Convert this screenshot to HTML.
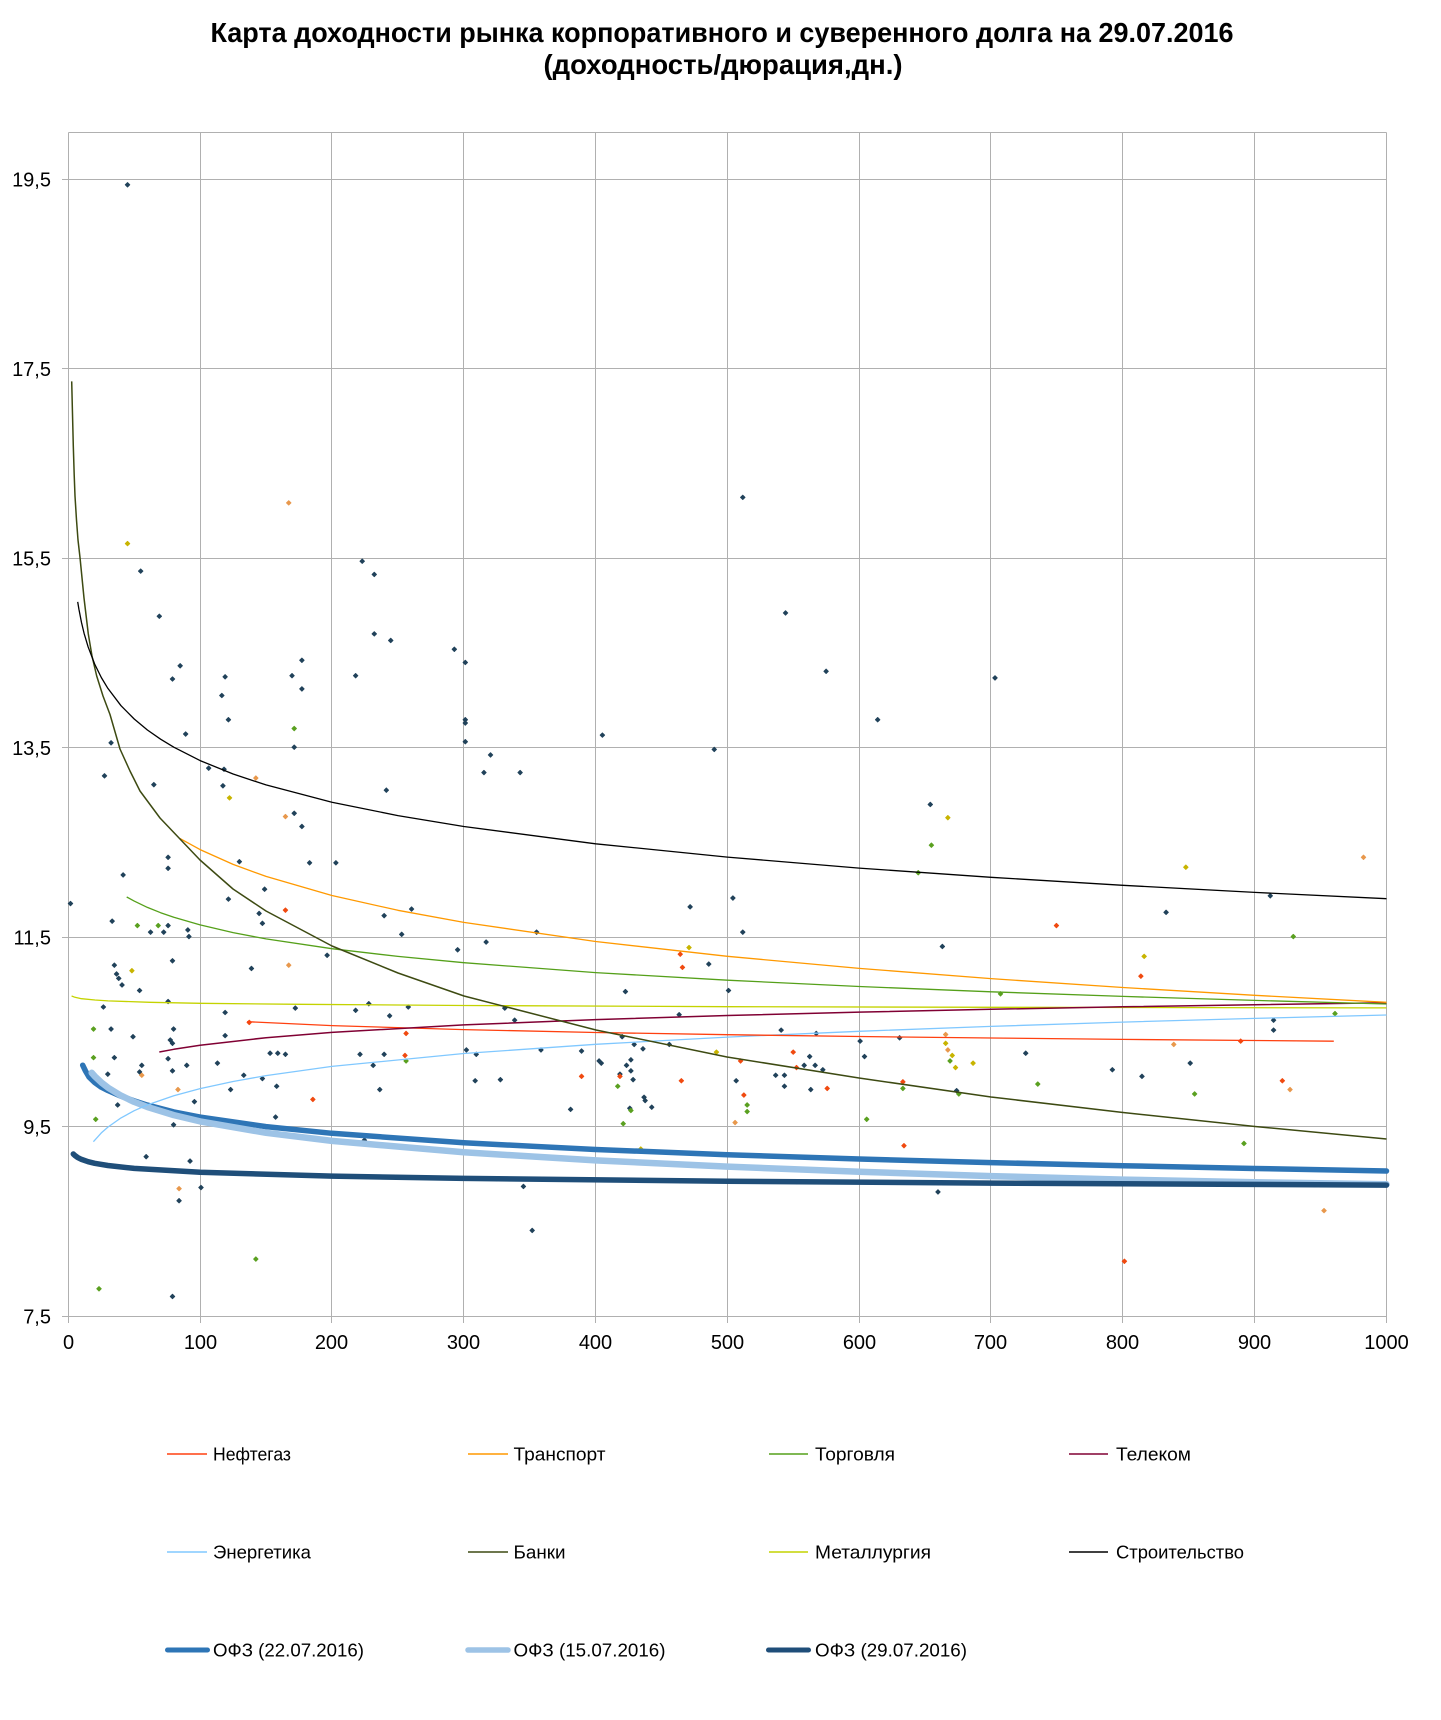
<!DOCTYPE html>
<html><head><meta charset="utf-8"><style>
html,body{margin:0;padding:0;background:#fff;}
svg{display:block;font-family:"Liberation Sans",sans-serif;}
</style></head><body>
<svg width="1441" height="1720" viewBox="0 0 1441 1720" xmlns="http://www.w3.org/2000/svg">
<rect width="1441" height="1720" fill="#fff"/>
<text x="722" y="42" text-anchor="middle" font-size="28" font-weight="bold" textLength="1023" lengthAdjust="spacingAndGlyphs">Карта доходности рынка корпоративного и суверенного долга на 29.07.2016</text>
<text x="723" y="74" text-anchor="middle" font-size="28" font-weight="bold" textLength="359" lengthAdjust="spacingAndGlyphs">(доходность/дюрация,дн.)</text>
<g stroke="#b0b0b0" stroke-width="1" fill="none">
<path d="M68.5 132.5H1386.5M62 179.5H1386.5M62 368.5H1386.5M62 558.5H1386.5M62 747.5H1386.5M62 937.5H1386.5M62 1126.5H1386.5M62 1316.5H1386.5"/>
<path d="M68.5 132.5V1323M200.5 132.5V1323M331.5 132.5V1323M463.5 132.5V1323M595.5 132.5V1323M727.5 132.5V1323M859.5 132.5V1323M990.5 132.5V1323M1122.5 132.5V1323M1254.5 132.5V1323M1386.5 132.5V1323"/>
</g>
<g font-size="20" fill="#000" text-anchor="end">
<text x="51" y="186.5">19,5</text>
<text x="51" y="376">17,5</text>
<text x="51" y="565.5">15,5</text>
<text x="51" y="755">13,5</text>
<text x="51" y="944.5">11,5</text>
<text x="51" y="1134">9,5</text>
<text x="51" y="1323.5">7,5</text>
</g>
<g font-size="20" fill="#000" text-anchor="middle">
<text x="68.5" y="1349">0</text>
<text x="200.5" y="1349">100</text>
<text x="331.5" y="1349">200</text>
<text x="463.5" y="1349">300</text>
<text x="595.5" y="1349">400</text>
<text x="727.5" y="1349">500</text>
<text x="859.5" y="1349">600</text>
<text x="990.5" y="1349">700</text>
<text x="1122.5" y="1349">800</text>
<text x="1254.5" y="1349">900</text>
<text x="1386.5" y="1349">1000</text>
</g>
<!-- scatter points (display coords transformed) -->
<g transform="matrix(1.0967 0 0 1.1007 0.3 -2.34)" stroke-width="0.9" stroke-linejoin="round">
<path fill="#21425a" stroke="#21425a" d="M116 168l2 2-2 2-2-2zM677 452l2 2-2 2-2-2zM330 510l2 2-2 2-2-2zM341 522l2 2-2 2-2-2zM128 519l2 2-2 2-2-2zM716 557l2 2-2 2-2-2zM145 560l2 2-2 2-2-2zM341 576l2 2-2 2-2-2zM356 582l2 2-2 2-2-2zM414 590l2 2-2 2-2-2zM424 602l2 2-2 2-2-2zM275 600l2 2-2 2-2-2zM266 614l2 2-2 2-2-2zM324 614l2 2-2 2-2-2zM164 605l2 2-2 2-2-2zM157 617l2 2-2 2-2-2zM205 615l2 2-2 2-2-2zM202 632l2 2-2 2-2-2zM275 626l2 2-2 2-2-2zM753 610l2 2-2 2-2-2zM907 616l2 2-2 2-2-2zM424 654l2 2-2 2-2-2zM424 657l2 2-2 2-2-2zM208 654l2 2-2 2-2-2zM169 667l2 2-2 2-2-2zM549 668l2 2-2 2-2-2zM800 654l2 2-2 2-2-2zM101 675l2 2-2 2-2-2zM268 679l2 2-2 2-2-2zM424 674l2 2-2 2-2-2zM447 686l2 2-2 2-2-2zM651 681l2 2-2 2-2-2zM190 698l2 2-2 2-2-2zM204 699l2 2-2 2-2-2zM441 702l2 2-2 2-2-2zM474 702l2 2-2 2-2-2zM95 705l2 2-2 2-2-2zM140 713l2 2-2 2-2-2zM203 714l2 2-2 2-2-2zM352 718l2 2-2 2-2-2zM848 731l2 2-2 2-2-2zM268 739l2 2-2 2-2-2zM275 751l2 2-2 2-2-2zM153 779l2 2-2 2-2-2zM218 783l2 2-2 2-2-2zM282 784l2 2-2 2-2-2zM306 784l2 2-2 2-2-2zM153 789l2 2-2 2-2-2zM112 795l2 2-2 2-2-2zM241 808l2 2-2 2-2-2zM208 817l2 2-2 2-2-2zM668 816l2 2-2 2-2-2zM1158 814l2 2-2 2-2-2zM64 821l2 2-2 2-2-2zM236 830l2 2-2 2-2-2zM350 832l2 2-2 2-2-2zM375 826l2 2-2 2-2-2zM629 824l2 2-2 2-2-2zM1063 829l2 2-2 2-2-2zM102 837l2 2-2 2-2-2zM239 839l2 2-2 2-2-2zM153 841l2 2-2 2-2-2zM171 845l2 2-2 2-2-2zM149 847l2 2-2 2-2-2zM137 847l2 2-2 2-2-2zM172 851l2 2-2 2-2-2zM366 849l2 2-2 2-2-2zM489 847l2 2-2 2-2-2zM677 847l2 2-2 2-2-2zM859 860l2 2-2 2-2-2zM417 863l2 2-2 2-2-2zM443 856l2 2-2 2-2-2zM298 868l2 2-2 2-2-2zM157 873l2 2-2 2-2-2zM104 877l2 2-2 2-2-2zM229 880l2 2-2 2-2-2zM646 876l2 2-2 2-2-2zM106 885l2 2-2 2-2-2zM108 889l2 2-2 2-2-2zM111 895l2 2-2 2-2-2zM570 901l2 2-2 2-2-2zM664 900l2 2-2 2-2-2zM127 900l2 2-2 2-2-2zM153 910l2 2-2 2-2-2zM269 916l2 2-2 2-2-2zM336 912l2 2-2 2-2-2zM94 915l2 2-2 2-2-2zM324 918l2 2-2 2-2-2zM372 915l2 2-2 2-2-2zM460 916l2 2-2 2-2-2zM355 923l2 2-2 2-2-2zM205 920l2 2-2 2-2-2zM619 922l2 2-2 2-2-2zM101 935l2 2-2 2-2-2zM158 935l2 2-2 2-2-2zM469 927l2 2-2 2-2-2zM1161 927l2 2-2 2-2-2zM1161 936l2 2-2 2-2-2zM205 941l2 2-2 2-2-2zM121 942l2 2-2 2-2-2zM155 945l2 2-2 2-2-2zM567 942l2 2-2 2-2-2zM712 936l2 2-2 2-2-2zM744 939l2 2-2 2-2-2zM820 943l2 2-2 2-2-2zM157 948l2 2-2 2-2-2zM578 949l2 2-2 2-2-2zM784 946l2 2-2 2-2-2zM153 962l2 2-2 2-2-2zM104 961l2 2-2 2-2-2zM546 964l2 2-2 2-2-2zM586 953l2 2-2 2-2-2zM610 949l2 2-2 2-2-2zM328 958l2 2-2 2-2-2zM246 957l2 2-2 2-2-2zM253 957l2 2-2 2-2-2zM260 958l2 2-2 2-2-2zM350 958l2 2-2 2-2-2zM425 954l2 2-2 2-2-2zM434 958l2 2-2 2-2-2zM493 954l2 2-2 2-2-2zM530 955l2 2-2 2-2-2zM788 960l2 2-2 2-2-2zM738 960l2 2-2 2-2-2zM1085 966l2 2-2 2-2-2zM935 957l2 2-2 2-2-2zM129 968l2 2-2 2-2-2zM170 968l2 2-2 2-2-2zM198 966l2 2-2 2-2-2zM340 968l2 2-2 2-2-2zM548 966l2 2-2 2-2-2zM571 968l2 2-2 2-2-2zM575 973l2 2-2 2-2-2zM575 963l2 2-2 2-2-2zM733 968l2 2-2 2-2-2zM743 968l2 2-2 2-2-2zM750 972l2 2-2 2-2-2zM1014 972l2 2-2 2-2-2zM127 974l2 2-2 2-2-2zM157 973l2 2-2 2-2-2zM98 976l2 2-2 2-2-2zM222 977l2 2-2 2-2-2zM239 980l2 2-2 2-2-2zM433 982l2 2-2 2-2-2zM456 981l2 2-2 2-2-2zM565 976l2 2-2 2-2-2zM577 981l2 2-2 2-2-2zM671 982l2 2-2 2-2-2zM707 977l2 2-2 2-2-2zM715 977l2 2-2 2-2-2zM1041 978l2 2-2 2-2-2zM210 990l2 2-2 2-2-2zM252 987l2 2-2 2-2-2zM346 990l2 2-2 2-2-2zM715 987l2 2-2 2-2-2zM739 990l2 2-2 2-2-2zM872 991l2 2-2 2-2-2zM107 1004l2 2-2 2-2-2zM177 1001l2 2-2 2-2-2zM588 1000l2 2-2 2-2-2zM594 1006l2 2-2 2-2-2zM587 997l2 2-2 2-2-2zM520 1008l2 2-2 2-2-2zM574 1007l2 2-2 2-2-2zM158 1022l2 2-2 2-2-2zM251 1015l2 2-2 2-2-2zM133 1051l2 2-2 2-2-2zM173 1055l2 2-2 2-2-2zM332 1036l2 2-2 2-2-2zM183 1079l2 2-2 2-2-2zM477 1078l2 2-2 2-2-2zM855 1083l2 2-2 2-2-2zM163 1091l2 2-2 2-2-2zM485 1118l2 2-2 2-2-2zM157 1178l2 2-2 2-2-2z"/>
<path fill="#e8984c" stroke="#e8984c" d="M263 457l2 2-2 2-2-2zM233 707l2 2-2 2-2-2zM260 742l2 2-2 2-2-2zM1243 779l2 2-2 2-2-2zM263 877l2 2-2 2-2-2zM862 940l2 2-2 2-2-2zM1070 949l2 2-2 2-2-2zM864 954l2 2-2 2-2-2zM129 977l2 2-2 2-2-2zM1176 990l2 2-2 2-2-2zM162 990l2 2-2 2-2-2zM670 1020l2 2-2 2-2-2zM163 1080l2 2-2 2-2-2zM1207 1100l2 2-2 2-2-2z"/>
<path fill="#c8b400" stroke="#c8b400" d="M116 494l2 2-2 2-2-2zM209 725l2 2-2 2-2-2zM864 743l2 2-2 2-2-2zM1081 788l2 2-2 2-2-2zM628 861l2 2-2 2-2-2zM1043 869l2 2-2 2-2-2zM120 882l2 2-2 2-2-2zM653 956l2 2-2 2-2-2zM862 948l2 2-2 2-2-2zM868 959l2 2-2 2-2-2zM871 970l2 2-2 2-2-2zM887 966l2 2-2 2-2-2zM584 1044l2 2-2 2-2-2z"/>
<path fill="#5aa020" stroke="#5aa020" d="M268 662l2 2-2 2-2-2zM849 768l2 2-2 2-2-2zM837 793l2 2-2 2-2-2zM125 841l2 2-2 2-2-2zM144 841l2 2-2 2-2-2zM1179 851l2 2-2 2-2-2zM912 903l2 2-2 2-2-2zM85 935l2 2-2 2-2-2zM1217 921l2 2-2 2-2-2zM370 964l2 2-2 2-2-2zM866 964l2 2-2 2-2-2zM85 961l2 2-2 2-2-2zM563 987l2 2-2 2-2-2zM823 989l2 2-2 2-2-2zM874 994l2 2-2 2-2-2zM946 985l2 2-2 2-2-2zM1089 994l2 2-2 2-2-2zM681 1004l2 2-2 2-2-2zM681 1010l2 2-2 2-2-2zM575 1009l2 2-2 2-2-2zM790 1017l2 2-2 2-2-2zM87 1017l2 2-2 2-2-2zM568 1021l2 2-2 2-2-2zM1134 1039l2 2-2 2-2-2zM233 1144l2 2-2 2-2-2zM90 1171l2 2-2 2-2-2z"/>
<path fill="#f04a10" stroke="#f04a10" d="M260 827l2 2-2 2-2-2zM963 841l2 2-2 2-2-2zM620 867l2 2-2 2-2-2zM622 879l2 2-2 2-2-2zM1040 887l2 2-2 2-2-2zM227 929l2 2-2 2-2-2zM370 939l2 2-2 2-2-2zM1131 946l2 2-2 2-2-2zM675 964l2 2-2 2-2-2zM369 959l2 2-2 2-2-2zM723 956l2 2-2 2-2-2zM726 970l2 2-2 2-2-2zM530 978l2 2-2 2-2-2zM565 978l2 2-2 2-2-2zM621 982l2 2-2 2-2-2zM823 983l2 2-2 2-2-2zM1169 982l2 2-2 2-2-2zM754 989l2 2-2 2-2-2zM285 999l2 2-2 2-2-2zM678 995l2 2-2 2-2-2zM824 1041l2 2-2 2-2-2zM1025 1146l2 2-2 2-2-2z"/>
</g>
<!-- OFZ curves -->
<g fill="none" stroke-linecap="round" stroke-linejoin="round">
<polyline stroke="#2e75b6" stroke-width="5.5" points="82.7,1065.2 85.5,1071 89,1077 94.7,1082.5 101.3,1087.2 107.9,1090.5 121,1096.2 134.2,1100.9 147.4,1105.1 173.8,1111.9 200.1,1117.1 266,1126.6 331.9,1133.3 463.8,1142.8 595.6,1149.5 727.4,1154.7 859.2,1159 991,1162.6 1122.9,1165.7 1254.7,1168.5 1386.5,1171"/>
<polyline stroke="#9dc3e6" stroke-width="6.5" points="91.7,1072.8 94.7,1076.2 101.3,1082.4 107.9,1087.6 121,1095.6 134.2,1101.9 147.4,1107 173.8,1115.1 200.1,1121.4 266,1132.8 331.9,1140.9 463.8,1152.3 595.6,1160.4 727.4,1166.6 859.2,1171.8 991,1176.1 1122.9,1179.6 1254.7,1182.3 1386.5,1184.3"/>
<polyline stroke="#1f4e79" stroke-width="5.5" points="73.3,1154 74.9,1155.5 77.5,1157.4 81.5,1159.4 88.1,1161.7 94.7,1163.3 107.9,1165.5 134.2,1168.4 200.1,1172.3 331.9,1176.1 463.8,1178.4 727.4,1181.3 991,1183.1 1386.5,1185.1"/>
</g>
<!-- trendlines -->
<g fill="none" stroke-width="1.3" stroke-linejoin="round">
<polyline stroke="#c4d300" points="71.6,996 75,997.3 81.5,998.7 95,1000 107.9,1000.9 150,1002.3 200.1,1003.3 300,1004.3 463.8,1005.5 727.4,1006.7 1000,1007.3 1386.5,1007.9"/>
<polyline stroke="#80c8ff" points="93.4,1141.7 101.3,1132.9 107.9,1127.1 121,1117.9 134.2,1110.7 147.4,1104.9 173.8,1095.7 200.1,1088.6 233.1,1081.5 266,1075.6 331.9,1066.4 463.8,1053.5 595.6,1044.3 727.4,1037.1 859.2,1031.3 991,1026.4 1122.9,1022.1 1254.7,1018.4 1386.5,1015"/>
<polyline stroke="#ff4010" points="247.1,1021.7 331.9,1025.6 463.8,1029.6 595.6,1032.5 727.4,1034.7 859.2,1036.5 991,1038 1122.9,1039.4 1254.7,1040.5 1333.8,1041.2"/>
<polyline stroke="#800033" stroke-width="1.5" points="159.3,1052 173.8,1049.3 200.1,1045.2 266,1037.7 331.9,1032.4 463.8,1024.9 595.6,1019.6 727.4,1015.5 859.2,1012.1 991,1009.3 1122.9,1006.8 1254.7,1004.7 1386.5,1002.7"/>
<polyline stroke="#55a01a" points="126.7,897 134.2,901.1 147.4,907.4 160.6,912.7 173.8,917.3 200.1,924.9 233.1,932.6 266,938.9 331.9,948.7 397.9,956.4 463.8,962.7 595.6,972.6 727.4,980.2 859.2,986.5 991,991.8 1122.9,996.4 1254.7,1000.4 1386.5,1004"/>
<polyline stroke="#ff9900" points="179.8,838.4 200.1,849.6 233.1,864.4 266,876.4 331.9,895.5 397.9,910.3 463.8,922.4 595.6,941.5 727.4,956.3 859.2,968.4 991,978.6 1122.9,987.5 1254.7,995.3 1386.5,1002.3"/>
<polyline stroke="#3d4a12" stroke-width="1.5" points="71.7,381.4 72.4,410 73.3,446 74.2,475 75,496 76.5,520 78,540 80,557.5 84,598 88.3,634 92,656 96.7,676 103,696 110,714.5 120,749 130,771 140,791 160,818 180,839 200,860 233,889 266,911 332,946 398,973 464,996 596,1030 727,1057 859,1078 991,1097 1123,1112.5 1255,1126.5 1386.5,1139"/>
<polyline stroke="#000" points="77.7,601.9 78.9,609.1 81.5,622.5 84.1,633.4 88.1,646.8 94.7,664.1 101.3,677.5 107.9,688.4 121,705.7 134.2,719 147.4,730 160.6,739.2 173.8,747.2 200.1,760.6 233.1,774 266,784.9 331.9,802.2 397.9,815.6 463.8,826.5 595.6,843.8 727.4,857.1 859.2,868.1 991,877.3 1122.9,885.3 1254.7,892.4 1386.5,898.7"/>
</g>
<!-- legend -->
<g stroke-width="1.5">
<line x1="167" y1="1454" x2="207" y2="1454" stroke="#ff4010"/>
<line x1="468" y1="1454" x2="508" y2="1454" stroke="#ff9900"/>
<line x1="769" y1="1454" x2="808" y2="1454" stroke="#55a01a"/>
<line x1="1069" y1="1454" x2="1108" y2="1454" stroke="#800033"/>
<line x1="167" y1="1552" x2="207" y2="1552" stroke="#80c8ff"/>
<line x1="468" y1="1552" x2="508" y2="1552" stroke="#3d4a12"/>
<line x1="769" y1="1552" x2="808" y2="1552" stroke="#c4d300"/>
<line x1="1069" y1="1552" x2="1108" y2="1552" stroke="#000"/>
</g>
<g stroke-linecap="round" stroke-width="5">
<line x1="167.5" y1="1650" x2="207.5" y2="1650" stroke="#2e75b6"/>
<line x1="468" y1="1650" x2="508" y2="1650" stroke="#9dc3e6" stroke-width="5.5"/>
<line x1="768.5" y1="1650" x2="808.5" y2="1650" stroke="#1f4e79"/>
</g>
<g font-size="18" fill="#000">
<text x="213" y="1460.5" textLength="78" lengthAdjust="spacingAndGlyphs">Нефтегаз</text>
<text x="513.5" y="1460.5" textLength="92" lengthAdjust="spacingAndGlyphs">Транспорт</text>
<text x="815" y="1460.5" textLength="80" lengthAdjust="spacingAndGlyphs">Торговля</text>
<text x="1116" y="1460.5" textLength="75" lengthAdjust="spacingAndGlyphs">Телеком</text>
<text x="213" y="1558.5" textLength="98" lengthAdjust="spacingAndGlyphs">Энергетика</text>
<text x="513.5" y="1558.5" textLength="52" lengthAdjust="spacingAndGlyphs">Банки</text>
<text x="815" y="1558.5" textLength="116" lengthAdjust="spacingAndGlyphs">Металлургия</text>
<text x="1116" y="1558.5" textLength="128" lengthAdjust="spacingAndGlyphs">Строительство</text>
<text x="213" y="1656.5" textLength="151" lengthAdjust="spacingAndGlyphs">ОФЗ (22.07.2016)</text>
<text x="513.5" y="1656.5" textLength="152" lengthAdjust="spacingAndGlyphs">ОФЗ (15.07.2016)</text>
<text x="815" y="1656.5" textLength="152" lengthAdjust="spacingAndGlyphs">ОФЗ (29.07.2016)</text>
</g>
</svg>
</body></html>
